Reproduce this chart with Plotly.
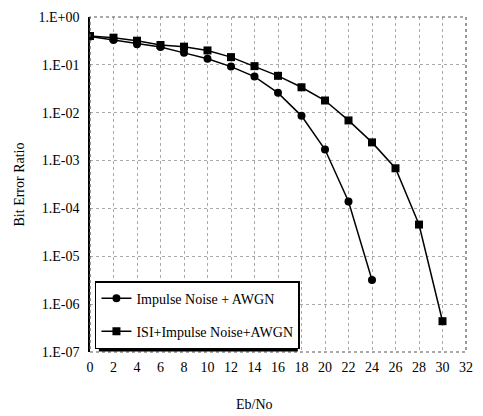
import plotly.graph_objects as go

ebno_a = [0, 2, 4, 6, 8, 10, 12, 14, 16, 18, 20, 22, 24]
ber_a = [0.39, 0.33, 0.27, 0.235, 0.178, 0.134, 0.092, 0.057, 0.026, 0.0086, 0.0017, 1.4e-4, 3.2e-6]

ebno_b = [0, 2, 4, 6, 8, 10, 12, 14, 16, 18, 20, 22, 24, 26, 28, 30]
ber_b = [0.40, 0.37, 0.32, 0.26, 0.24, 0.20, 0.145, 0.094, 0.059, 0.034, 0.018, 0.0069, 0.0024, 6.9e-4, 4.6e-5, 4.4e-7]

name_a = "Impulse Noise + AWGN"
name_b = "ISI+Impulse Noise+AWGN"

x_ticks = list(range(0, 33, 2))
y_tickvals = [1, 1e-1, 1e-2, 1e-3, 1e-4, 1e-5, 1e-6, 1e-7]
y_ticktext = ["1.E+00", "1.E-01", "1.E-02", "1.E-03", "1.E-04", "1.E-05", "1.E-06", "1.E-07"]

FONT = "Liberation Serif, Times New Roman, serif"

fig = go.Figure()
fig.add_trace(go.Scatter(
    x=ebno_a, y=ber_a, name=name_a, mode="lines+markers",
    line=dict(color="black", width=1.5),
    marker=dict(symbol="circle", size=8, color="black"),
    legendgroup="a",
))
fig.add_trace(go.Scatter(
    x=ebno_b, y=ber_b, name=name_b, mode="lines+markers",
    line=dict(color="black", width=1.5),
    marker=dict(symbol="square", size=8, color="black"),
    legendgroup="b",
))

W, H = 483, 416
L, R, T, B = 90, 13, 10, 64
pw, ph = W - L - R, H - T - B

def px(xp):
    return (xp - L) / pw

def py(yp):
    return 1 - (yp - T) / ph

fig.update_layout(
    width=W, height=H,
    margin=dict(l=L, r=R, t=T, b=B),
    paper_bgcolor="white", plot_bgcolor="white",
    font=dict(family=FONT, size=14, color="black"),
    showlegend=True,
    legend=dict(
        x=px(95), y=py(349), xanchor="left", yanchor="bottom",
        bgcolor="white", bordercolor="black", borderwidth=1.5,
        font=dict(family=FONT, size=14, color="black"),
        traceorder="grouped", tracegroupgap=12,
        itemwidth=30,
    ),
    xaxis=dict(
        range=[0, 32], tickvals=x_ticks, ticks="", showline=False,
        showgrid=True, gridcolor="#aaa", griddash="dot", gridwidth=1,
        zeroline=False, tickfont=dict(family=FONT, size=14),
        ticklabelstandoff=5,
    ),
    yaxis=dict(
        type="log", range=[-7, 0], tickvals=y_tickvals, ticktext=y_ticktext,
        ticks="", showline=True, linecolor="black", linewidth=1.5,
        showgrid=True, gridcolor="#aaa", griddash="dot", gridwidth=1,
        zeroline=False, tickfont=dict(family=FONT, size=14),
        ticklabelstandoff=6,
        title=dict(text="Bit Error Ratio", font=dict(family=FONT, size=14), standoff=11),
    ),
)

# dotted frame (top, right, bottom)
fig.add_shape(type="rect", xref="paper", yref="paper", x0=0, x1=1, y0=0, y1=1,
              line=dict(color="#555", width=1.2, dash="dot"), layer="above")
# legend shadow
fig.add_shape(type="rect", xref="paper", yref="paper",
              x0=px(99), x1=px(300), y0=py(351.5), y1=py(285),
              line=dict(width=0), fillcolor="black", layer="above")

fig.add_annotation(text="Eb/No", xref="paper", yref="paper",
                   x=px(256), y=py(406), showarrow=False,
                   font=dict(family=FONT, size=14), xanchor="center", yanchor="middle")

fig.write_html("out.html")
